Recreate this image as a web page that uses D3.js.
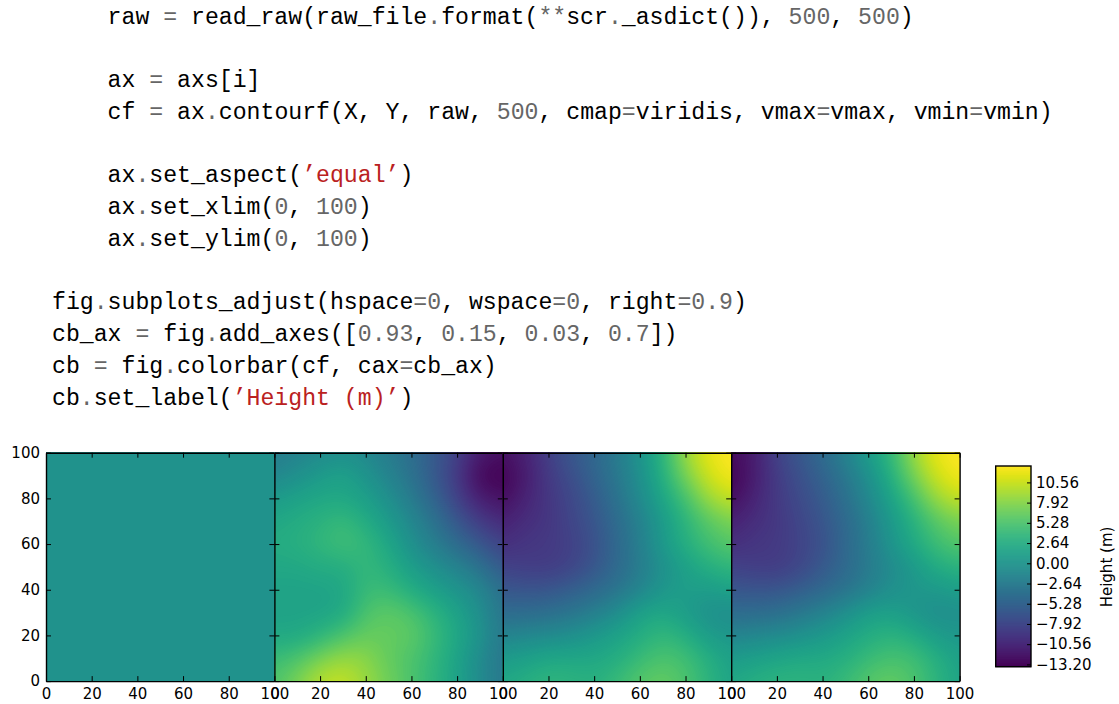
<!DOCTYPE html>
<html>
<head>
<meta charset="utf-8">
<script src="https://cdn.jsdelivr.net/npm/d3@7"></script>
<style>
  body { margin: 0; background: #fff; }
  text { font-family: "DejaVu Sans", sans-serif; }
  .code { font-family: "Liberation Mono", monospace; font-size: 23.17px; }
</style>
</head>
<body>
<div id="chart"></div>
<script>
// source listing shown above the plots
var codeLines = [
  {indent: 4, line: 1, text: "raw = read_raw(raw_file.format(**scr._asdict()), 500, 500)"},
  {indent: 4, line: 3, text: "ax = axs[i]"},
  {indent: 4, line: 4, text: "cf = ax.contourf(X, Y, raw, 500, cmap=viridis, vmax=vmax, vmin=vmin)"},
  {indent: 4, line: 6, text: "ax.set_aspect(’equal’)"},
  {indent: 4, line: 7, text: "ax.set_xlim(0, 100)"},
  {indent: 4, line: 8, text: "ax.set_ylim(0, 100)"},
  {indent: 0, line: 10, text: "fig.subplots_adjust(hspace=0, wspace=0, right=0.9)"},
  {indent: 0, line: 11, text: "cb_ax = fig.add_axes([0.93, 0.15, 0.03, 0.7])"},
  {indent: 0, line: 12, text: "cb = fig.colorbar(cf, cax=cb_ax)"},
  {indent: 0, line: 13, text: "cb.set_label(’Height (m)’)"}
];

var axisTicks = [0, 20, 40, 60, 80, 100];
var colorbarTicks = [-13.2, -10.56, -7.92, -5.28, -2.64, 0, 2.64, 5.28, 7.92, 10.56];
var colorbarLabel = "Height (m)";
var vmin = -13.5, vmax = 12.7;

// heights, rows from y=100 down to y=0, columns x=0..100 every 10
var panel1 = [
  [0,0,0,0,0,0,0,0,0,0,0],
  [0,0,0,0,0,0,0,0,0,0,0],
  [0,0,0,0,0,0,0,0,0,0,0],
  [0,0,0,0,0,0,0,0,0,0,0],
  [0,0,0,0,0,0,0,0,0,0,0],
  [0,0,0,0,0,0,0,0,0,0,0],
  [0,0,0,0,0,0,0,0,0,0,0],
  [0,0,0,0,0,0,0,0,0,0,0],
  [0,0,0,0,0,0,0,0,0,0,0],
  [0,0,0,0,0,0,0,0,0,0,0],
  [0,0,0,0,0,0,0,0,0,0,0]
];
var panel2 = [
  [-2.5,-1.7,-1.2,-0.4,-1.2,-2.5,-4.0,-6.0,-8.3,-11.5,-12.2],
  [-1.4,-0.4,0.9,1.7,0.1,-1.7,-3.5,-6.2,-9.0,-13.3,-13.5],
  [0.9,1.7,2.2,2.2,1.4,-0.4,-2.5,-5.1,-8.3,-11.4,-12.2],
  [2.2,2.7,3.3,4.3,2.7,0.9,-1.2,-3.5,-6.4,-8.8,-10.4],
  [2.7,3.0,3.8,4.8,4.0,2.2,-0.4,-2.2,-4.3,-6.4,-8.3],
  [2.2,2.2,2.7,2.7,4.0,3.0,1.2,-0.4,-1.7,-3.5,-6.4],
  [1.7,1.7,1.7,2.0,4.3,4.3,2.7,1.4,0.1,-1.2,-4.0],
  [1.7,1.7,1.7,2.2,5.4,6.4,5.4,3.5,1.7,-0.4,-3.5],
  [2.2,2.2,3.5,5.4,6.7,6.4,6.4,4.3,2.2,0.1,-3.0],
  [4.3,5.4,7.5,8.8,8.2,6.4,5.4,3.8,1.7,-0.9,-3.3],
  [5.4,7.5,10.1,10.6,8.8,7.0,5.4,3.5,1.7,-0.9,-3.0]
];
var panel3 = [
  [-12.2,-11.0,-8.5,-6.2,-4.9,-2.5,0.1,3.5,9.0,12.0,12.7],
  [-13.5,-11.5,-9.0,-7.2,-5.0,-3.0,-0.4,3.0,7.5,11.0,12.5],
  [-12.7,-10.8,-9.3,-7.8,-6.0,-3.5,-0.9,2.0,5.0,9.0,10.5],
  [-11.0,-10.0,-9.4,-8.0,-6.5,-4.3,-2.0,0.8,3.5,6.0,7.5],
  [-10.0,-9.3,-9.0,-8.5,-7.0,-4.6,-2.2,0.8,3.0,4.8,6.0],
  [-8.3,-8.8,-9.0,-8.2,-6.5,-4.6,-2.5,-0.4,1.4,3.0,3.8],
  [-6.4,-6.6,-6.5,-5.6,-4.6,-3.3,-1.7,0.4,1.2,0.9,1.7],
  [-4.3,-4.3,-4.0,-3.3,-2.2,-0.7,1.7,2.2,0.9,-0.4,-0.7],
  [-1.7,-1.2,-0.9,-0.4,0.6,1.7,2.7,4.0,3.0,0.9,0.4],
  [0.9,1.4,2.2,2.2,2.2,2.7,4.3,5.4,4.8,3.0,1.4],
  [2.2,3.0,3.8,3.5,3.0,4.3,5.9,6.7,5.4,3.5,1.7]
];
var panel4 = [
  [-12.7,-11.5,-8.2,-6.2,-4.3,-1.7,1.2,4.0,9.0,12.2,12.7],
  [-13.5,-11.5,-8.8,-7.0,-5.2,-3.0,-0.4,3.0,7.5,11.0,12.5],
  [-12.7,-10.8,-9.0,-7.5,-6.0,-3.8,-1.2,1.7,5.0,9.0,10.5],
  [-11.0,-10.0,-9.2,-8.0,-6.5,-4.6,-2.2,0.6,3.2,6.0,7.5],
  [-10.0,-9.3,-9.0,-8.2,-7.0,-4.6,-2.5,0.2,2.5,4.6,5.8],
  [-8.3,-8.8,-9.0,-8.0,-6.2,-4.6,-2.7,-1.0,0.6,2.7,3.5],
  [-6.4,-6.6,-6.5,-5.7,-4.7,-3.5,-2.0,-0.4,0.4,0.6,1.2],
  [-4.3,-4.3,-4.0,-3.0,-1.8,-0.4,1.4,1.4,0.1,-0.7,-0.4],
  [-1.7,-1.2,-0.9,-0.2,0.6,1.7,2.7,3.5,2.7,0.9,0.4],
  [0.9,1.4,2.0,2.4,2.4,2.9,4.3,5.1,4.8,3.0,1.4],
  [2.2,3.0,3.5,3.5,3.2,4.3,5.9,6.7,5.4,3.5,1.7]
];
var panels = [panel1, panel2, panel3, panel4];

var width = 1119, height = 704;
var svg = d3.select("#chart").append("svg")
  .attr("width", width).attr("height", height)
  .style("display", "block");

// --- code block ---
var charW = 13.9;
var code = svg.append("g");
codeLines.forEach(function(d) {
  var t = code.append("text").attr("class", "code")
    .attr("x", 52 + d.indent * charW)
    .attr("y", 23.5 + (d.line - 1) * 31.75)
    .style("white-space", "pre");
  // split into tokens: strings red, numbers and operators gray
  var re = /(’[^’]*’)|(\d+(?:\.\d+)?)|(\*\*|=|\.)|([^’\d*=.]+)/g, m;
  while ((m = re.exec(d.text)) !== null) {
    t.append("tspan")
      .attr("fill", m[1] ? "#ba2121" : (m[2] || m[3]) ? "#666666" : "#000")
      .text(m[0]);
  }
});

// --- plots ---
var plotLeft = 46, plotTop = 452.7, panelSize = 228.4;
var color = d3.scaleSequential(d3.interpolateViridis).domain([vmin, vmax]);
var levelStep = 0.13;
var levels = d3.range(vmin, vmax, levelStep);

// each reading becomes a block of cells, then d3.blur2 softens the blocks
var cellsPerSample = 6, blurRadius = 2.5;
var n = panel1[0].length, m = panel1.length;
var gridW = n * cellsPerSample, gridH = m * cellsPerSample;
var contours = d3.contours().size([gridW, gridH]).thresholds(levels);

function softGrid(grid) {
  var data = new Float64Array(gridW * gridH);
  for (var r = 0; r < gridH; r++) {
    for (var c = 0; c < gridW; c++) {
      data[r * gridW + c] = grid[Math.floor(r / cellsPerSample)][Math.floor(c / cellsPerSample)];
    }
  }
  d3.blur2({data: data, width: gridW, height: gridH}, blurRadius);
  return data;
}

panels.forEach(function(grid, i) {
  var x = d3.scaleLinear().domain([0, 100]).range([0, panelSize]);
  var y = d3.scaleLinear().domain([0, 100]).range([panelSize, 0]);
  var g = svg.append("g")
    .attr("transform", "translate(" + (plotLeft + i * panelSize) + "," + plotTop + ")");

  g.append("clipPath").attr("id", "clip" + i)
    .append("rect").attr("width", panelSize).attr("height", panelSize);

  // reading k sits in the middle of its block of cells
  var path = d3.geoPath(d3.geoTransform({
    point: function(px, py) {
      this.stream.point(x((px / cellsPerSample - 0.5) * 10), y(100 - (py / cellsPerSample - 0.5) * 10));
    }
  }));

  g.append("g").attr("clip-path", "url(#clip" + i + ")")
    .selectAll("path")
    .data(contours(Array.from(softGrid(grid))))
    .enter().append("path")
    .attr("d", path)
    .attr("fill", function(d) { return color(d.value); });

  var fmt = function(d) { return d; };
  var none = function() { return ""; };

  function style(a) {
    a.selectAll("path.domain").attr("stroke", "#000").attr("stroke-width", 1.4);
    a.selectAll("line").attr("stroke", "#000").attr("stroke-width", 1);
    a.selectAll("text").attr("fill", "#000").style("font-size", "15px")
      .style("font-family", '"DejaVu Sans", sans-serif');
  }

  var bottom = g.append("g").attr("transform", "translate(0," + panelSize + ")")
    .call(d3.axisBottom(x).tickValues(axisTicks).tickSizeInner(-5).tickSizeOuter(0).tickPadding(7).tickFormat(fmt));
  var top = g.append("g")
    .call(d3.axisTop(x).tickValues(axisTicks).tickSizeInner(-5).tickSizeOuter(0).tickFormat(none));
  var left = g.append("g")
    .call(d3.axisLeft(y).tickValues(axisTicks).tickSizeInner(-5).tickSizeOuter(0).tickPadding(6).tickFormat(i === 0 ? fmt : none));
  var right = g.append("g").attr("transform", "translate(" + panelSize + ",0)")
    .call(d3.axisRight(y).tickValues(axisTicks).tickSizeInner(-5).tickSizeOuter(0).tickFormat(none));
  [bottom, top, left, right].forEach(style);
});

// --- colorbar ---
var cbX = 995.7, cbW = 35.3, cbTop = 466, cbBottom = 666.7;
var cbY = d3.scaleLinear().domain([vmin, vmax]).range([cbBottom, cbTop]);
var cb = svg.append("g");
cb.selectAll("rect.level")
  .data(levels)
  .enter().append("rect")
  .attr("class", "level")
  .attr("x", cbX)
  .attr("width", cbW)
  .attr("y", function(d) { return cbY(Math.min(d + levelStep, vmax)); })
  .attr("height", function(d) { return cbY(d) - cbY(Math.min(d + levelStep, vmax)) + 0.5; })
  .attr("fill", function(d) { return color(d); });

var cbAxis = cb.append("g").attr("transform", "translate(" + (cbX + cbW) + ",0)")
  .call(d3.axisRight(cbY).tickValues(colorbarTicks).tickSizeInner(-4).tickSizeOuter(0).tickPadding(5)
    .tickFormat(function(d) { return d3.format(".2f")(d).replace("-", "\u2212"); }));
cbAxis.select("path.domain").remove();
cbAxis.selectAll("line").attr("stroke", "#000").attr("stroke-width", 1);
cbAxis.selectAll("text").attr("fill", "#000").style("font-size", "15px")
  .style("font-family", '"DejaVu Sans", sans-serif');

cb.append("rect")
  .attr("x", cbX).attr("y", cbTop).attr("width", cbW).attr("height", cbBottom - cbTop)
  .attr("fill", "none").attr("stroke", "#000").attr("stroke-width", 1.4);

cb.append("text")
  .attr("transform", "translate(1112,567) rotate(-90)")
  .attr("text-anchor", "middle")
  .style("font-size", "15px")
  .attr("fill", "#000")
  .text(colorbarLabel);
</script>
</body>
</html>
